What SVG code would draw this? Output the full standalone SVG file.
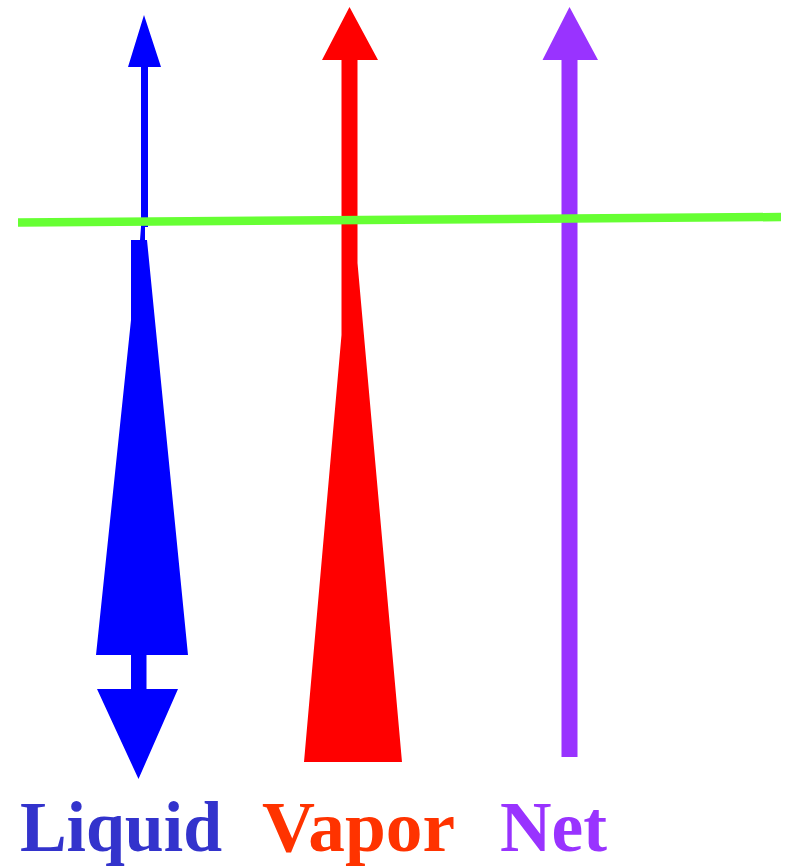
<svg xmlns="http://www.w3.org/2000/svg" width="787" height="866" viewBox="0 0 787 866">
<style>
.lbl{font-family:"Liberation Serif","Times New Roman",serif;font-weight:bold;font-size:71px}
</style>
<rect width="787" height="866" fill="#ffffff"/>
<g id="liquid">
<polygon points="144,15 161,67 148,67 148,227 145,227 145,240 147,240 188,655 146.5,655 146.5,689 178,689 138.5,779 97,689 131,689 131,655 96,655 131,320 131,240 140,240 141,227 141,67 128,67" fill="#0000ff"/>
</g>
<g id="vapor">
<polygon points="349.5,7 378,60 357.5,60 357.5,263 402,762 304,762 341.5,335 341.5,60 322,60" fill="#ff0000"/>
</g>
<g id="net">
<polygon points="569.5,7 598,60 577.5,60 577.5,757 561.5,757 561.5,60 542.5,60" fill="#9933ff"/>
</g>
<g id="connectors">
<line x1="18" y1="222.5" x2="781" y2="217" stroke="#66ff33" stroke-width="8.5"/>
</g>
<g id="labels">
<text class="lbl" x="20" y="851" fill="#3333cc" textLength="202" lengthAdjust="spacingAndGlyphs">Liquid</text>
<text class="lbl" x="262" y="851" fill="#ff3300" textLength="193" lengthAdjust="spacingAndGlyphs">Vapor</text>
<text class="lbl" x="500" y="851" fill="#9933ff" textLength="107" lengthAdjust="spacingAndGlyphs">Net</text>
</g>
</svg>
